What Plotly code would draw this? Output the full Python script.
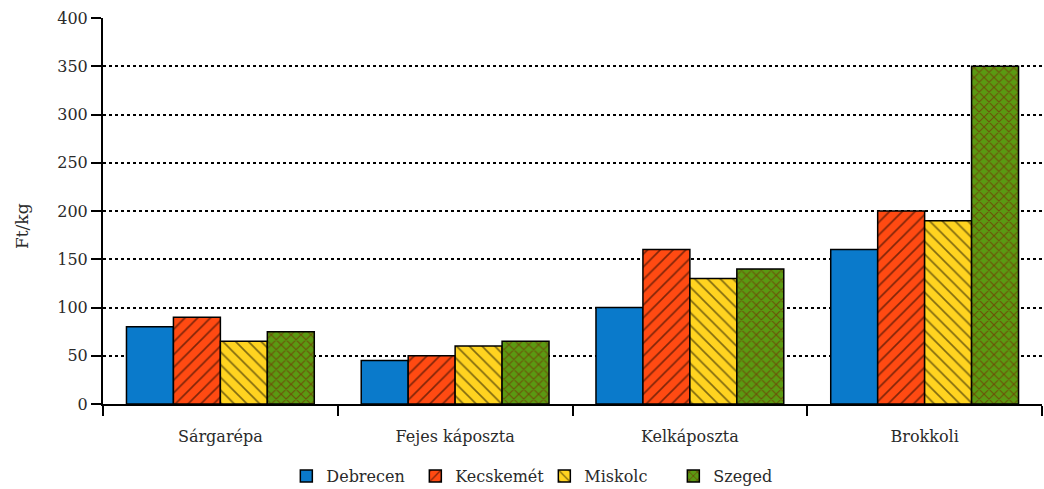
import plotly.graph_objects as go

categories = ["Sárgarépa", "Fejes káposzta", "Kelkáposzta", "Brokkoli"]
debrecen = [80, 45, 100, 160]
kecskemet = [90, 50, 160, 200]
miskolc = [65, 60, 130, 190]
szeged = [75, 65, 140, 350]
y_ticks = [0, 50, 100, 150, 200, 250, 300, 350, 400]
y_title = "Ft/kg"

series = [
    ("Debrecen", debrecen, "#0A7ACB", "", "#000000", 0.3, 9),
    ("Kecskemét", kecskemet, "#FF4A12", "/", "#000000", 0.18, 9),
    ("Miskolc", miskolc, "#FFD320", "\\", "#000000", 0.18, 9),
    ("Szeged", szeged, "#5A9A12", "x", "#7A0A00", 0.3, 7),
]

FONT = "DejaVu Serif"
TXT = "#2a2a2a"
fig = go.Figure()
for name, vals, color, shape, fg, sol, sz in series:
    marker = dict(color=color, line=dict(color="#000000", width=1.5))
    if shape:
        marker["pattern"] = dict(shape=shape, fgcolor=fg, bgcolor=color,
                                 size=sz, solidity=sol)
    fig.add_trace(go.Bar(name=name, x=categories, y=vals, marker=marker))

fig.add_annotation(text=y_title, textangle=-90, xref="paper", yref="paper",
                   x=-0.0863, y=0.461, xanchor="center", yanchor="middle",
                   showarrow=False, font=dict(family=FONT, size=17, color=TXT))

fig.update_layout(
    width=1044, height=489,
    paper_bgcolor="white", plot_bgcolor="white",
    barmode="group", bargap=0.2, bargroupgap=0,
    margin=dict(l=103, r=2, t=18, b=85, autoexpand=False),
    font=dict(family=FONT, size=16, color=TXT),
    showlegend=True,
    legend=dict(orientation="h", xref="paper", x=0.47, xanchor="center",
                yref="paper", y=-0.1865, yanchor="middle",
                font=dict(family=FONT, size=16, color=TXT),
                itemwidth=30, entrywidth=84, traceorder="normal"),
    xaxis=dict(
        type="category", showline=True, linecolor="black", linewidth=2,
        ticks="outside", tickson="boundaries", ticklen=10, tickwidth=2,
        tickcolor="black", showgrid=False, ticklabelstandoff=17,
        tickfont=dict(family=FONT, size=16, color=TXT),
    ),
    yaxis=dict(
        range=[0, 400], tickvals=y_ticks, showline=True, linecolor="black",
        linewidth=2, ticks="outside", ticklen=10, tickwidth=2, tickcolor="black",
        showgrid=True, gridcolor="black", gridwidth=2, griddash="dot",
        zeroline=False,
        tickfont=dict(family=FONT, size=16, color=TXT),
    ),
)

fig.write_html("out.html", config={"displayModeBar": False},
               post_script="document.body.style.margin='0';")
